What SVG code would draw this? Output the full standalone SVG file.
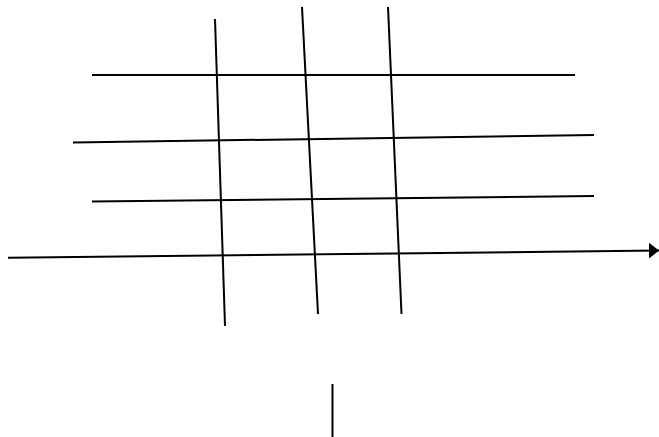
<svg xmlns="http://www.w3.org/2000/svg" width="659" height="437" viewBox="0 0 659 437">
<style>
.ln{stroke:#000;stroke-width:2;fill:none;stroke-linecap:butt}
</style>
<defs>
<marker id="ah" markerUnits="userSpaceOnUse" markerWidth="12" markerHeight="18" refX="10" refY="8" orient="auto">
<path d="M0,0 L10,8 L0,16 Z" fill="#000"/>
</marker>
</defs>
<rect width="659" height="437" fill="#fff"/>
<g id="connectors">
<line class="ln" x1="92" y1="75" x2="575" y2="75"/>
<line class="ln" x1="73" y1="142.5" x2="594" y2="135"/>
<line class="ln" x1="92" y1="201.5" x2="594" y2="196"/>
<line class="ln" x1="215" y1="19" x2="225" y2="326"/>
<line class="ln" x1="302" y1="7" x2="318" y2="314"/>
<line class="ln" x1="388" y1="7" x2="401.5" y2="314"/>
<line class="ln" x1="332.5" y1="384" x2="332.5" y2="437"/>
<line class="ln" x1="8" y1="257.8" x2="659" y2="250.5" stroke-width="2.5" marker-end="url(#ah)"/>
</g>
</svg>
